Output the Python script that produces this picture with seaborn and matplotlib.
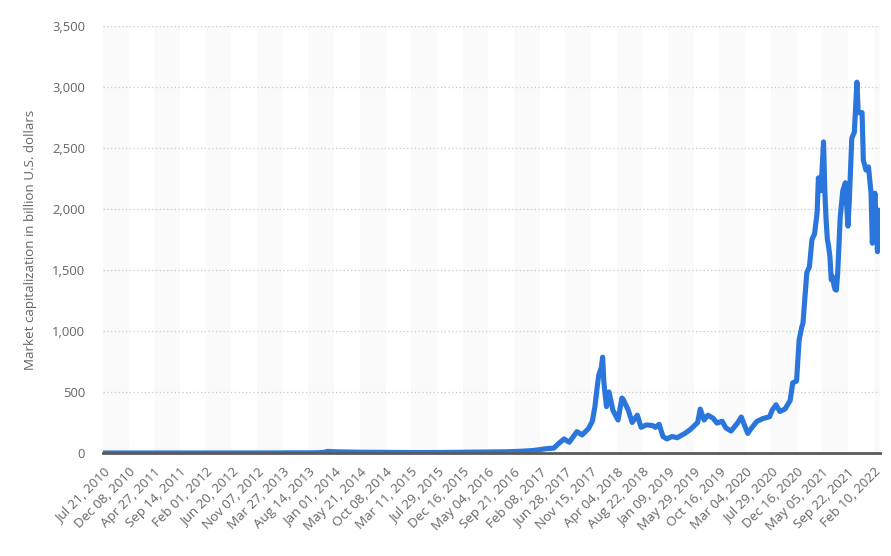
import matplotlib
matplotlib.use("Agg")
import matplotlib.pyplot as plt
import seaborn as sns

# week index (one point per week, first point = Jul 21, 2010)
week_idx = [0, 20, 40, 45, 60, 80, 100, 120, 140, 145, 160, 168, 172, 175, 180,
            190, 200, 220, 240, 260, 280, 300, 315, 325, 335, 345, 351, 355, 359,
            363, 369, 373, 378, 381, 383, 385, 386, 388, 389, 390, 392, 394, 397,
            401, 404, 405, 409, 412, 416, 419, 423, 428, 430, 433, 436, 439, 443,
            447, 453, 457, 463, 465, 468, 471, 475, 478, 482, 485, 489, 494, 497,
            499, 502, 505, 509, 514, 519, 521, 524, 527, 531, 535, 537, 540, 542,
            544, 545, 548, 550, 552, 554, 556, 557, 559, 561, 562, 563, 564, 565,
            566, 567, 568, 569, 570, 571, 572, 573, 574, 576, 578, 580, 581, 583,
            585, 587, 588, 591, 592, 594, 596, 598, 599, 601, 603, 604]

# market capitalization in billion U.S. dollars
market_cap = [0.0, 0.001, 0.01, 0.15, 0.04, 0.03, 0.05, 0.1, 0.6, 1.4, 1.1, 2.0, 5.5, 13, 10,
              8, 6, 5, 3.5, 3.8, 6, 8, 10, 14, 20, 35, 40, 80, 115,
              88, 175, 148, 200, 260, 380, 560, 640, 700, 785, 575, 380, 500, 350,
              270, 450, 440, 350, 250, 310, 210, 230, 225, 210, 235, 135, 115, 135,
              125, 160, 190, 250, 360, 270, 310, 285, 245, 260, 205, 180, 245, 295,
              240, 160, 205, 258, 283, 297, 350, 395, 340, 360, 430, 575, 590, 925,
              1030, 1065, 1480, 1525, 1750, 1795, 1970, 2255, 2150, 2550, 2150, 1910, 1750, 1690,
              1605, 1420, 1445, 1380, 1340, 1335, 1470, 1700, 1935, 2150, 2215, 1860, 2050, 2580,
              2630, 3040, 2790, 2790, 2400, 2320, 2345, 2130, 1720, 2130, 1650, 1990]

tick_labels = ["Jul 21, 2010", "Dec 08, 2010", "Apr 27, 2011", "Sep 14, 2011",
               "Feb 01, 2012", "Jun 20, 2012", "Nov 07, 2012", "Mar 27, 2013",
               "Aug 14, 2013", "Jan 01, 2014", "May 21, 2014", "Oct 08, 2014",
               "Mar 11, 2015", "Jul 29, 2015", "Dec 16, 2015", "May 04, 2016",
               "Sep 21, 2016", "Feb 08, 2017", "Jun 28, 2017", "Nov 15, 2017",
               "Apr 04, 2018", "Aug 22, 2018", "Jan 09, 2019", "May 29, 2019",
               "Oct 16, 2019", "Mar 04, 2020", "Jul 29, 2020", "Dec 16, 2020",
               "May 05, 2021", "Sep 22, 2021", "Feb 10, 2022"]

sns.set_style("white")
plt.rcParams['font.family'] = ['Open Sans', 'DejaVu Sans']

fig, ax = plt.subplots(figsize=(8.91, 5.56), dpi=100)
fig.subplots_adjust(left=0.1156, right=0.9877, bottom=0.1853, top=0.9532)

# alternating background bands
for k in range(0, 31, 2):
    ax.axvspan(k * 20, k * 20 + 20, color='#fafafa', lw=0, zorder=0)

sns.lineplot(x=week_idx, y=market_cap, ax=ax, color='#2a76dd', linewidth=3.7,
             zorder=3, solid_joinstyle='round', solid_capstyle='round')

ax.set_xlim(0, 605)
ax.set_ylim(0, 3500)
ax.set_xticks(range(0, 601, 20))
ax.set_xticklabels(tick_labels, rotation=45, ha='right', rotation_mode='anchor')
ax.set_yticks(range(0, 3501, 500))
ax.set_yticklabels([f"{v:,}" for v in range(0, 3501, 500)])
ax.tick_params(axis='x', length=0, pad=9, labelsize=9.6, colors='#666666')
ax.tick_params(axis='y', length=0, pad=13, labelsize=9.4, colors='#666666')

ax.yaxis.grid(True, linestyle=(0, (1, 2)), color='#c8c8c8', linewidth=0.9)
ax.xaxis.grid(False)
ax.set_axisbelow(True)
for s in ['left', 'right', 'top']:
    ax.spines[s].set_visible(False)
ax.spines['bottom'].set_color('#5a5a5a')
ax.spines['bottom'].set_linewidth(2)
ax.spines['bottom'].set_zorder(4)

ax.set_ylabel('Market capitalization in billion U.S. dollars', color='#666666',
              fontsize=9.6, labelpad=11)
ax.set_xlabel('')

fig.savefig('out.png', dpi=100)
